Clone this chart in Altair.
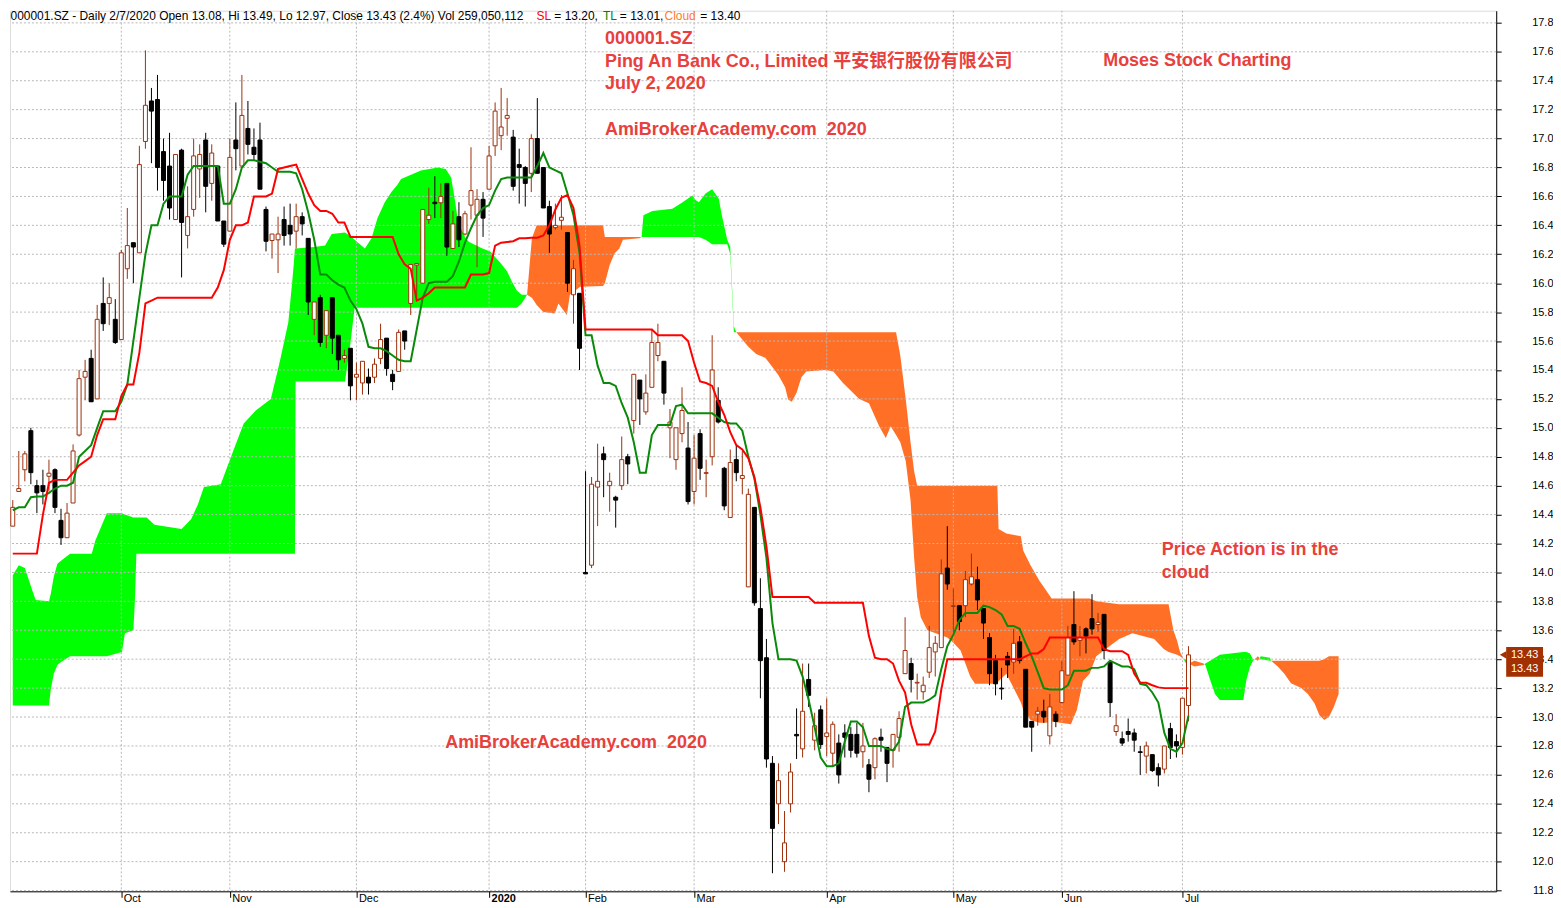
import altair as alt
import pandas as pd

# ---------------- data ----------------
OPEN = [14.32,14.56,14.71,14.98,14.60,14.60,14.665,14.71,14.36,14.24,
        14.48,14.95,15.35,15.48,15.20,15.86,15.86,15.75,15.61,16.10,
        16.28,16.21,16.98,17.26,17.27,16.91,16.81,16.44,16.92,16.33,
        16.51,16.79,16.99,16.69,16.81,16.43,16.36,16.99,16.81,17.07,
        16.94,16.99,16.51,16.295,16.30,16.44,16.40,16.36,16.46,16.31,
        15.75,15.90,15.64,15.90,15.64,15.48,15.55,15.35,15.31,15.35,
        15.35,15.48,15.62,15.37,15.39,15.67,15.86,16.125,16.00,16.44,
        16.56,16.556,16.69,16.24,16.46,16.34,16.54,16.47,16.58,16.65,
        16.95,17.02,17.14,17.01,16.82,16.80,16.76,17.00,16.80,16.53,
        16.384,16.435,16.35,15.92,15.93,14.00,14.05,14.59,14.82,14.60,
        14.52,14.60,14.80,15.05,15.33,15.11,15.28,15.50,15.46,15.00,
        14.78,14.96,14.86,14.56,14.96,14.685,14.80,15.19,14.72,14.38,
        14.78,14.65,13.90,14.45,13.75,13.41,12.68,12.40,12.00,12.40,
        12.88,12.78,13.26,12.84,13.05,12.865,12.75,12.82,12.89,12.88,
        12.88,12.76,12.67,12.65,12.86,12.79,12.77,12.86,13.30,13.37,
        13.235,13.175,13.31,13.45,13.48,14.03,13.765,13.77,13.77,13.92,
        13.95,13.75,13.55,13.39,13.20,13.42,13.38,13.52,13.33,12.97,
        13.02,13.04,12.87,13.02,13.10,13.29,13.64,13.53,13.61,13.68,
        13.64,13.71,13.38,12.90,12.85,12.90,12.89,12.76,12.73,12.74,
        12.65,12.64,12.92,12.83,12.79,13.08]
HIGH = [14.50,14.84,14.84,15.00,14.64,14.71,14.78,14.72,14.44,14.48,
        14.885,15.40,15.47,15.54,15.85,16.04,16.00,15.89,16.23,16.52,
        16.28,16.95,17.61,17.35,17.44,17.00,17.04,16.89,16.93,16.67,
        17.00,16.96,17.04,16.96,16.81,16.43,17.00,17.25,17.44,17.26,
        17.07,17.11,16.53,16.34,16.46,16.53,16.55,16.55,16.49,16.31,
        15.87,15.92,15.81,15.90,15.64,15.54,15.55,15.45,15.46,15.41,
        15.48,15.72,15.62,15.40,15.68,15.67,16.13,16.14,16.51,16.66,
        16.74,16.69,16.69,16.50,16.56,16.50,16.94,16.65,16.63,16.95,
        17.25,17.35,17.28,17.06,16.93,16.81,17.03,17.28,16.80,16.57,
        16.55,16.61,16.35,16.16,15.93,14.70,14.66,14.89,14.87,14.69,
        14.53,14.94,14.82,15.37,15.33,15.37,15.68,15.72,15.46,15.13,
        15.00,15.28,15.04,14.95,14.99,14.78,15.64,15.28,14.73,14.85,
        14.88,14.84,14.58,14.45,13.96,13.54,12.73,12.68,12.35,12.68,
        13.06,13.37,13.37,13.03,13.08,13.13,12.97,12.88,12.95,12.93,
        12.96,12.96,12.71,12.86,12.92,12.79,12.88,13.04,13.69,13.41,
        13.30,13.28,13.63,13.56,14.09,14.32,13.89,13.77,14.01,14.13,
        14.04,13.75,13.58,13.43,13.34,13.45,13.61,13.56,13.33,12.97,
        13.07,13.12,13.16,13.04,13.39,13.63,13.87,13.63,13.62,13.85,
        13.72,13.71,13.38,13.02,12.90,12.99,12.92,12.80,12.83,12.74,
        12.68,12.80,12.96,12.88,13.13,13.49]
LOW = [14.32,14.56,14.63,14.61,14.41,14.47,14.565,14.41,14.19,14.24,
       14.48,14.94,15.19,15.18,15.20,15.67,15.71,15.58,15.61,16.03,
       16.00,16.21,16.93,16.83,16.64,16.57,16.44,16.44,16.04,16.24,
       16.46,16.59,16.49,16.57,16.43,16.25,16.36,16.78,16.81,16.89,
       16.85,16.65,16.22,16.17,16.07,16.26,16.26,16.24,16.33,15.78,
       15.64,15.56,15.55,15.51,15.40,15.45,15.19,15.19,15.23,15.23,
       15.31,15.44,15.36,15.26,15.39,15.54,15.78,15.90,16.00,16.41,
       16.45,16.45,16.19,16.24,16.25,16.33,16.44,16.11,16.32,16.65,
       16.88,16.92,17.02,16.64,16.55,16.53,16.63,16.76,16.52,16.21,
       16.37,16.37,15.94,15.72,15.40,13.99,14.03,14.32,14.52,14.42,
       14.31,14.57,14.61,14.96,15.02,15.09,15.28,15.46,15.16,14.79,
       14.71,14.90,14.47,14.47,14.64,14.52,14.74,15.03,14.43,14.38,
       14.63,14.54,13.90,13.77,13.13,12.65,11.92,12.26,11.93,12.34,
       12.71,12.72,13.07,12.77,12.78,12.73,12.66,12.54,12.72,12.72,
       12.72,12.65,12.48,12.57,12.76,12.55,12.65,12.76,13.30,13.17,
       13.12,13.12,13.27,13.28,13.48,13.88,13.59,13.60,13.69,13.91,
       13.74,13.54,13.22,13.15,13.12,13.27,13.30,13.37,12.93,12.76,
       12.94,12.96,12.81,12.93,13.10,13.29,13.50,13.42,13.44,13.57,
       13.59,13.40,13.00,12.87,12.80,12.83,12.76,12.60,12.61,12.62,
       12.52,12.61,12.71,12.72,12.74,12.97]
CLOSE = [14.45,14.58,14.82,14.69,14.55,14.56,14.686,14.45,14.24,14.41,
         14.84,15.34,15.39,15.18,15.75,15.72,15.90,15.59,16.21,16.26,
         16.25,16.82,17.23,17.19,16.80,16.71,16.52,16.89,16.42,16.46,
         16.88,16.89,16.67,16.90,16.43,16.27,16.87,16.93,17.16,16.96,
         16.89,16.65,16.29,16.34,16.34,16.33,16.34,16.46,16.41,15.87,
         15.87,15.59,15.81,15.62,15.47,15.50,15.29,15.37,15.46,15.31,
         15.44,15.61,15.41,15.32,15.66,15.60,16.13,16.136,16.51,16.47,
         16.55,16.60,16.25,16.41,16.30,16.48,16.64,16.58,16.45,16.88,
         17.19,17.08,17.16,16.67,16.80,16.69,17.00,16.76,16.52,16.34,
         16.40,16.456,16.00,16.10,15.55,13.99,14.61,14.63,14.78,14.63,
         14.50,14.78,14.75,15.37,15.20,15.24,15.59,15.59,15.24,15.04,
         15.00,15.12,14.49,14.79,14.72,14.69,15.40,15.04,14.46,14.76,
         14.69,14.67,14.54,13.79,13.39,12.71,12.23,12.56,12.13,12.62,
         12.87,13.04,13.15,12.94,12.81,12.89,12.95,12.60,12.86,12.77,
         12.75,12.80,12.57,12.85,12.84,12.68,12.88,12.99,13.46,13.26,
         13.24,13.22,13.48,13.51,13.99,13.92,13.77,13.66,13.95,13.97,
         13.81,13.65,13.30,13.23,13.195,13.36,13.51,13.39,12.93,12.93,
         13.04,13.00,13.07,12.97,13.32,13.55,13.52,13.55,13.56,13.61,
         13.655,13.46,13.10,12.94,12.82,12.88,12.84,12.755,12.80,12.63,
         12.60,12.80,12.79,12.80,13.13,13.43]
TENKAN = [14.43,14.45,14.45,14.52,14.525,14.525,14.55,14.58,14.60,14.60,
          14.62,14.80,14.84,14.88,15.00,15.115,15.115,15.115,15.18,15.30,
          15.60,15.90,16.20,16.40,16.40,16.55,16.60,16.60,16.60,16.75,
          16.81,16.81,16.81,16.81,16.81,16.55,16.55,16.65,16.80,16.85,
          16.85,16.84,16.83,16.80,16.77,16.77,16.77,16.76,16.65,16.49,
          16.30,16.06,16.06,16.02,15.99,15.97,15.88,15.82,15.72,15.56,
          15.55,15.55,15.53,15.50,15.47,15.46,15.46,15.68,15.90,16.00,
          16.01,16.01,16.01,16.05,16.15,16.28,16.38,16.47,16.52,16.54,
          16.64,16.72,16.73,16.73,16.73,16.73,16.73,16.81,16.90,16.80,
          16.78,16.76,16.62,16.47,16.21,15.64,15.64,15.43,15.31,15.31,
          15.29,15.17,15.07,14.90,14.69,14.69,14.95,15.02,15.02,15.02,
          15.15,15.16,15.10,15.10,15.10,15.10,15.10,15.07,15.04,15.03,
          15.03,14.98,14.80,14.65,14.40,14.10,13.65,13.40,13.40,13.40,
          13.39,13.28,13.12,12.93,12.72,12.66,12.66,12.68,12.83,12.97,
          12.97,12.93,12.80,12.80,12.80,12.78,12.77,12.83,13.07,13.10,
          13.10,13.10,13.12,13.15,13.33,13.49,13.57,13.67,13.72,13.72,
          13.72,13.77,13.76,13.74,13.71,13.63,13.63,13.61,13.51,13.42,
          13.31,13.20,13.19,13.19,13.19,13.22,13.32,13.32,13.32,13.34,
          13.34,13.35,13.39,13.37,13.35,13.35,13.33,13.23,13.22,13.17,
          13.10,12.89,12.78,12.76,12.82,13.01]
KIJUN = [14.13,14.13,14.13,14.13,14.13,14.40,14.62,14.64,14.64,14.64,
         14.69,14.74,14.77,14.80,14.95,15.06,15.06,15.06,15.22,15.30,
         15.30,15.52,15.86,15.88,15.90,15.90,15.90,15.90,15.90,15.90,
         15.90,15.90,15.90,15.90,15.97,16.09,16.30,16.40,16.40,16.42,
         16.60,16.60,16.60,16.62,16.79,16.80,16.81,16.82,16.72,16.62,
         16.54,16.50,16.50,16.48,16.42,16.42,16.32,16.32,16.32,16.32,
         16.32,16.32,16.32,16.32,16.20,16.13,16.10,15.88,15.90,15.93,
         15.97,15.97,15.97,15.97,15.97,15.97,16.06,16.06,16.06,16.07,
         16.26,16.28,16.285,16.29,16.31,16.31,16.315,16.315,16.33,16.40,
         16.51,16.59,16.61,16.52,16.26,15.68,15.68,15.68,15.68,15.68,
         15.68,15.68,15.68,15.68,15.68,15.68,15.68,15.64,15.64,15.64,
         15.64,15.64,15.60,15.45,15.32,15.31,15.29,15.18,15.09,14.97,
         14.88,14.85,14.79,14.66,14.45,14.18,13.83,13.83,13.83,13.83,
         13.83,13.83,13.83,13.79,13.79,13.79,13.79,13.79,13.79,13.79,
         13.79,13.79,13.56,13.41,13.40,13.40,13.37,13.25,13.17,12.95,
         12.81,12.81,12.81,12.90,13.19,13.40,13.40,13.40,13.40,13.40,
         13.40,13.40,13.40,13.40,13.40,13.40,13.40,13.40,13.42,13.44,
         13.44,13.47,13.55,13.55,13.55,13.55,13.55,13.55,13.55,13.55,
         13.55,13.47,13.455,13.455,13.455,13.43,13.30,13.237,13.237,13.22,
         13.205,13.20,13.20,13.20,13.20,13.20]
# cloud: bar position, leading span A, lagging span B
CLOUD_I = [0,1,2,3.2,3.8,6.0,6.3,6.8,7.4,8.0,9.5,13.1,13.7,15.6,18.1,18.6,20.0,20.25,20.5,22.2,
           23.5,28.0,29.6,30.7,31.7,34.5,36.2,38.3,40.3,42.8,43.9,44.4,45.7,46.3,46.6,46.8,46.9,
           50.0,51.8,52.9,55.1,55.9,56.7,58.4,59.5,60.5,61.7,62.8,63.8,64.4,67.7,70.5,71.8,72.7,
           73.2,73.7,74.3,75.1,75.7,77.9,79.2,79.8,80.9,82.0,82.8,83.6,84.4,85.3,
           86.1,86.9,88.0,89.9,90.5,91.9,92.4,94.1,97.9,98.2,99.0,99.8,100.6,101.2,103.9,104.3,
           104.6,106.1,109.4,111.1,112.7,113.3,113.8,114.9,116.0,117.1,117.6,118.5,119.0,119.6,120.0,
           122.0,123.3,124.8,125.9,127.0,128.1,128.6,129.2,130.0,130.8,131.6,134.7,136.1,137.7,
           140.4,142.0,143.7,144.8,145.6,146.5,147.2,148.1,148.9,149.5,150.0,150.6,151.7,155.0,
           156.1,157.2,158.8,159.6,163.3,163.5,164.8,167.2,167.6,168.8,170.3,171.4,172.3,175.5,
           176.5,177.5,178.6,179.7,183.5,185.7,189.3,190.9,191.7,192.5,193.1,193.6,194.2,194.6,
           195.0,196.0,197.5,197.8,198.6,199.4,200.2,204.1,204.6,205.2,205.7,206.0,206.5,207.0,
           208.5,208.7,209.8,210.9,212.0,213.7,214.8,215.9,216.7,217.5,218.3,219.1,219.9]
CLOUD_A = [13.98,14.05,14.03,13.88,13.81,13.80,13.85,13.97,14.06,14.08,14.13,14.13,14.22,14.41,14.41,14.40,14.38,14.38,14.38,14.38,
           14.33,14.30,14.37,14.47,14.59,14.61,14.80,15.03,15.12,15.20,15.39,15.48,15.73,15.99,16.13,16.24,16.24,
           16.25,16.26,16.34,16.35,16.33,16.30,16.24,16.31,16.45,16.56,16.63,16.68,16.72,16.78,16.80,16.79,16.73,
           16.61,16.47,16.38,16.31,16.285,16.24,16.22,16.19,16.14,16.08,16.01,15.95,15.92,15.92,
           15.90,15.85,15.80,15.79,15.86,15.78,15.92,15.976,15.98,16.00,16.125,16.205,16.24,16.30,16.31,16.32,
           16.47,16.50,16.515,16.56,16.607,16.573,16.56,16.62,16.65,16.584,16.47,16.30,16.25,15.70,15.66,
           15.56,15.51,15.485,15.425,15.364,15.28,15.195,15.18,15.243,15.35,15.39,15.40,15.39,15.31,
           15.20,15.17,15.01,14.93,15.01,14.95,14.90,14.77,14.50,14.10,13.83,13.69,13.60,13.55,
           13.51,13.46,13.28,13.23,13.23,13.25,13.30,13.10,13.05,12.98,12.96,12.96,12.97,12.95,
           13.05,13.25,13.30,13.42,13.54,13.58,13.54,13.47,13.45,13.44,13.43,13.42,13.40,13.40,
           13.37,13.35,13.36,13.37,13.39,13.41,13.43,13.45,13.45,13.44,13.40,13.40,13.39,13.42,
           13.41,13.39,13.35,13.30,13.233,13.20,13.16,13.095,13.015,12.98,13.00,13.07,13.16]
CLOUD_B = [13.08,13.08,13.08,13.08,13.08,13.08,13.19,13.30,13.36,13.38,13.42,13.42,13.42,13.42,13.45,13.58,13.60,13.80,14.13,14.13,
           14.13,14.13,14.13,14.13,14.13,14.13,14.13,14.13,14.13,14.13,14.13,14.13,14.13,14.13,14.13,14.13,15.32,
           15.32,15.32,15.32,15.32,15.55,15.83,15.83,15.83,15.83,15.83,15.83,15.83,15.83,15.83,15.83,15.83,15.83,
           15.83,15.83,15.83,15.83,15.83,15.83,15.83,15.83,15.83,15.83,15.83,15.83,15.86,15.92,
           16.31,16.40,16.40,16.40,16.40,16.40,16.40,16.40,16.40,16.32,16.32,16.32,16.32,16.32,16.32,16.32,
           16.32,16.32,16.32,16.32,16.32,16.32,16.32,16.30,16.27,16.27,16.27,16.27,16.20,15.66,15.66,
           15.66,15.66,15.66,15.66,15.66,15.66,15.66,15.66,15.66,15.66,15.66,15.66,15.66,15.66,
           15.66,15.66,15.66,15.66,15.66,15.66,15.50,15.20,14.90,14.70,14.60,14.60,14.60,14.60,
           14.60,14.60,14.60,14.60,14.60,14.30,14.27,14.25,14.15,14.05,13.94,13.875,13.82,13.82,
           13.82,13.82,13.82,13.80,13.78,13.78,13.78,13.78,13.78,13.60,13.53,13.45,13.40,13.37,
           13.37,13.39,13.37,13.36,13.256,13.16,13.118,13.118,13.256,13.347,13.39,13.40,13.42,13.40,
           13.39,13.39,13.39,13.39,13.39,13.39,13.39,13.39,13.39,13.40,13.42,13.42,13.42]

MONTH_I = [18, 36, 57, 79, 95, 113, 135, 156, 174, 194]
MONTH_LBL = ["Oct", "Nov", "Dec", "2020", "Feb", "Mar", "Apr", "May", "Jun", "Jul"]
PRICE_TICKS = [round(11.8 + 0.2 * k, 1) for k in range(31)]

HEADER = "000001.SZ - Daily 2/7/2020 Open 13.08, Hi 13.49, Lo 12.97, Close 13.43 (2.4%) Vol 259,050,112"
NOTE_RED = "#E8403C"

# ---------------- layout ----------------
W, H = 1492, 884
REF_L, REF_R = 2.5, 1500.0          # reference pixel span shown by the plot area
BAR0, BAR_W = 5.3, 6.075            # reference pixel of bar 0 and bar spacing
X_DOM = [(REF_L - BAR0) / BAR_W, (REF_R - BAR0) / BAR_W]
Y_DOM = [11.795, 17.884]
FONT = "Liberation Sans, Arial, Noto Sans CJK SC"
GREEN_CLOUD = "#00FF00"
ORANGE_CLOUD = "#FF6F26"
UP_COL = "#9E300A"
TK_COL = "#0A8A0A"
KJ_COL = "#FF0000"
GRID_COL = "#B8B8B8"


def px_x(ref):
    return (ref - REF_L) * W / (REF_R - REF_L)


def px_y(ref):
    return ref - 8.0


def y_of(price):
    return (Y_DOM[1] - price) / (Y_DOM[1] - Y_DOM[0]) * H


xs = alt.Scale(domain=X_DOM, nice=False, zero=False, padding=0)
ys = alt.Scale(domain=Y_DOM, nice=False, zero=False, padding=0)

label_expr = "".join(f"datum.value == {v} ? '{l}' : " for v, l in zip(MONTH_I, MONTH_LBL)) + "''"
x_axis = alt.Axis(values=MONTH_I, labelExpr=label_expr, grid=False, ticks=True, tickSize=6,
                  tickColor="black", domainColor="black", labelAlign="left", labelBaseline="top",
                  labelPadding=-5, labelOffset=2, labelFontSize=11, labelFont=FONT, labelColor="black",
                  labelFlush=False, labelOverlap=False, title=None,
                  labelFontWeight={"condition": {"test": "datum.value == 79", "value": "bold"}, "value": "normal"})
y_axis = alt.Axis(orient="right", values=PRICE_TICKS, format=".1f", grid=False, tickSize=5,
                  tickColor="black", domainColor="black", labelAlign="right", labelPadding=52,
                  labelFontSize=11, labelFont=FONT, labelColor="black", labelFlush=False,
                  labelOverlap=False, title=None)


def X(field):
    return alt.X(field, scale=xs, axis=x_axis)


def Y(field):
    return alt.Y(field, scale=ys, axis=y_axis)


n = len(CLOSE)
bars = pd.DataFrame({"i": list(range(n)), "o": OPEN, "h": HIGH, "l": LOW, "c": CLOSE,
                     "tk": TENKAN, "kj": KIJUN})
bars["dir"] = ["up" if c > o else "down" for o, c in zip(OPEN, CLOSE)]
bars["bt"] = [max(o, c) for o, c in zip(OPEN, CLOSE)]
bars["bb"] = [min(o, c) for o, c in zip(OPEN, CLOSE)]

# cloud runs split by which span is on top
pts = list(zip(CLOUD_I, CLOUD_A, CLOUD_B))
segs = []
cur = None
for k in range(len(pts) - 1):
    i0, a0, b0 = pts[k]
    i1, a1, b1 = pts[k + 1]
    d0, d1 = a0 - b0, a1 - b1
    if d0 * d1 < 0:
        t = d0 / (d0 - d1)
        ic = i0 + t * (i1 - i0)
        vc = a0 + t * (a1 - a0)
        pieces = [((i0, a0, b0), (ic, vc, vc), "g" if d0 > 0 else "o"),
                  ((ic, vc, vc), (i1, a1, b1), "g" if d1 > 0 else "o")]
    else:
        pieces = [((i0, a0, b0), (i1, a1, b1), "g" if (d0 + d1) >= 0 else "o")]
    for p, q, kind in pieces:
        if cur is None or cur[0] != kind:
            cur = [kind, [p]]
            segs.append(cur)
        cur[1].append(q)
rows = []
for sid, (kind, plist) in enumerate(segs):
    for (i, a, b) in plist:
        rows.append({"i": i, "top": max(a, b), "bot": min(a, b), "kind": kind, "run": sid})
cdf = pd.DataFrame(rows)

cloud = alt.Chart(cdf).mark_area(interpolate="linear").encode(
    x=X("i:Q"),
    y=Y("top:Q"),
    y2="bot:Q",
    color=alt.Color("kind:N", scale=alt.Scale(domain=["g", "o"], range=[GREEN_CLOUD, ORANGE_CLOUD]), legend=None),
    detail="run:N",
)

hgrid = alt.Chart(pd.DataFrame({"p": PRICE_TICKS})).mark_rule(
    color=GRID_COL, strokeDash=[2, 2], strokeWidth=1).encode(y=Y("p:Q"))
vgrid = alt.Chart(pd.DataFrame({"i": MONTH_I})).mark_rule(
    color=GRID_COL, strokeDash=[2, 2], strokeWidth=1).encode(x=X("i:Q"))

dir_scale_line = alt.Scale(domain=["up", "down"], range=[UP_COL, "black"])
wicks = alt.Chart(bars).mark_rule(strokeWidth=1).encode(
    x=X("i:Q"),
    y=Y("l:Q"),
    y2="h:Q",
    stroke=alt.Stroke("dir:N", scale=dir_scale_line, legend=None),
)
bodies = alt.Chart(bars).mark_bar(size=4, strokeWidth=1).encode(
    x=X("i:Q"),
    y=Y("bb:Q"),
    y2="bt:Q",
    fill=alt.Fill("dir:N", scale=alt.Scale(domain=["up", "down"], range=["white", "black"]), legend=None),
    stroke=alt.Stroke("dir:N", scale=dir_scale_line, legend=None),
)
tenkan = alt.Chart(bars).mark_line(color=TK_COL, strokeWidth=2).encode(x=X("i:Q"), y=Y("tk:Q"))
kijun = alt.Chart(bars).mark_line(color=KJ_COL, strokeWidth=2).encode(x=X("i:Q"), y=Y("kj:Q"))


def txt(s, x, y, color, size, weight="normal", align="left", baseline="middle"):
    return alt.Chart(pd.DataFrame({"t": [s]})).mark_text(
        align=align, baseline=baseline, font=FONT, fontSize=size, fontWeight=weight, color=color
    ).encode(x=alt.value(x), y=alt.value(y), text="t:N")


texts = [
    txt(HEADER, px_x(3), 0, "black", 12, baseline="top"),
    txt("SL", px_x(533), 0, "#FF0000", 12, baseline="top"),
    txt("= 13.20,", px_x(551), 0, "black", 12, baseline="top"),
    txt("TL", px_x(600), 0, "#008000", 12, baseline="top"),
    txt("= 13.01,", px_x(617), 0, "black", 12, baseline="top"),
    txt("Cloud", px_x(662), 0, "#FF7A2A", 12, baseline="top"),
    txt("= 13.40", px_x(698), 0, "black", 12, baseline="top"),
    txt("000001.SZ", px_x(602), px_y(36), NOTE_RED, 18, "bold"),
    txt("Ping An Bank Co., Limited 平安银行股份有限公司", px_x(602), px_y(59), NOTE_RED, 18, "bold"),
    txt("July 2, 2020", px_x(602), px_y(82), NOTE_RED, 18, "bold"),
    txt("AmiBrokerAcademy.com\u00a0 2020", px_x(602), px_y(128), NOTE_RED, 18, "bold"),
    txt("Moses Stock Charting", px_x(1104), px_y(58), NOTE_RED, 18, "bold"),
    txt("Price Action is in the", px_x(1163), px_y(549), NOTE_RED, 18, "bold"),
    txt("cloud", px_x(1163), px_y(572), NOTE_RED, 18, "bold"),
    txt("AmiBrokerAcademy.com\u00a0 2020", px_x(441), px_y(743), NOTE_RED, 18, "bold"),
]

# last-price tag on the right axis
last = CLOSE[-1]
ly = y_of(last)
TAG_COL = "#A33000"
tag_box = alt.Chart(pd.DataFrame({"v": [last]})).mark_rect(color=TAG_COL).encode(
    x=alt.value(W + 10), x2=alt.value(W + 47), y=alt.value(ly - 8), y2=alt.value(ly + 22))
tag_arrow = alt.Chart(pd.DataFrame({"v": [last]})).mark_point(
    shape="triangle-left", filled=True, color=TAG_COL, size=60, opacity=1).encode(
    x=alt.value(W + 7), y=alt.value(ly))
tag_t1 = alt.Chart(pd.DataFrame({"t": [f"{last:.2f}"]})).mark_text(
    align="center", baseline="middle", font=FONT, fontSize=11, color="white").encode(
    x=alt.value(W + 28.5), y=alt.value(ly), text="t:N")
tag_t2 = alt.Chart(pd.DataFrame({"t": [f"{last:.2f}"]})).mark_text(
    align="center", baseline="middle", font=FONT, fontSize=11, color="white").encode(
    x=alt.value(W + 28.5), y=alt.value(ly + 14), text="t:N")

chart = alt.layer(
    cloud, hgrid, vgrid, wicks, bodies, tenkan, kijun, *texts, tag_box, tag_arrow, tag_t1, tag_t2
).properties(
    width=W, height=H, padding={"left": 0, "top": 0, "right": 0, "bottom": 0}
).configure_view(strokeWidth=0).configure(background="white")

chart.save("out.html", embed_options={"renderer": "svg", "actions": False})
